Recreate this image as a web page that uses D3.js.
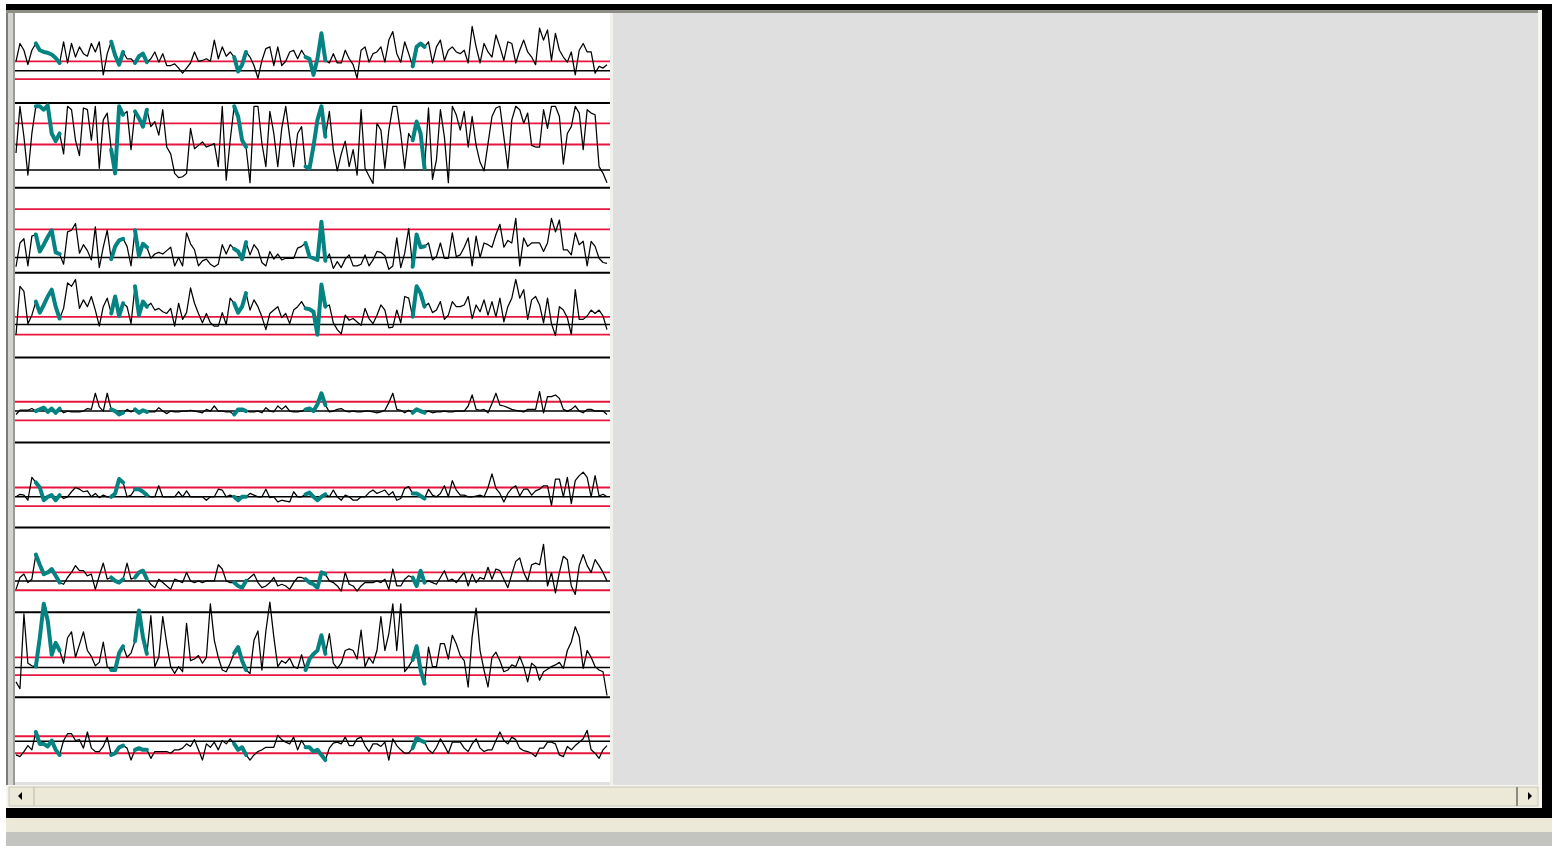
<!DOCTYPE html>
<html>
<head>
<meta charset="utf-8">
<script src="https://cdn.jsdelivr.net/npm/d3@7/dist/d3.min.js"></script>
<style>
  body { margin: 0; background: #fff; }
  svg { display: block; }
</style>
</head>
<body>
<div class="chart"></div>
<script>
var fullWidth = 1558;
var fullHeight = 849;

// one array per strip, values on a 0-100 scale of the strip
var strip1 = [
  49,70,62,45,62,70,62,60,59,57, 53,47,72,47,70,54,66,58,55,70,
  60,72,33,58,72,56,45,60,52,52, 47,55,58,48,52,60,48,58,44,44,
  46,41,35,41,47,60,49,50,52,49, 74,52,66,55,60,54,37,45,60,54,
  44,29,50,64,66,44,66,44,49,60, 62,52,62,54,52,33,52,82,50,47,
  58,47,47,62,52,45,29,62,66,48, 58,60,66,48,74,84,58,48,72,58,
  43,66,70,66,72,47,66,74,50,62, 66,60,58,62,47,90,66,47,70,60,
  54,80,66,50,72,70,47,62,74,60, 54,45,88,74,86,50,82,62,54,48,
  60,33,62,70,60,60,35,43,41,45
];
var strip2 = [
  41,96,60,15,64,96,96,92,97,64, 55,64,40,96,92,56,38,94,92,56,
  96,23,80,88,45,17,96,86,90,45, 90,82,72,92,72,78,62,92,48,40,
  17,12,13,17,70,46,50,54,48,50, 52,25,96,9,56,96,84,56,48,6,
  96,96,52,25,90,64,25,70,96,60, 25,64,72,25,23,49,80,96,60,90,
  45,20,40,55,25,45,15,92,23,14, 5,76,68,23,68,96,96,64,23,64,
  56,78,64,23,94,10,33,92,60,6, 96,86,68,90,48,84,50,30,20,52,
  84,94,96,60,23,80,96,92,76,88, 50,48,48,92,70,96,96,84,28,64,
  72,96,88,45,92,88,86,25,17,6
];
var strip3 = [
  7,35,40,8,43,45,25,33,42,50, 24,22,10,48,50,58,23,33,26,15,
  54,6,30,50,16,31,38,40,31,8, 50,20,34,30,17,22,24,22,26,30,
  8,18,8,47,34,27,8,14,16,10, 7,10,33,22,33,28,25,16,36,21,
  33,27,12,8,25,16,22,15,17,17, 17,29,31,35,19,17,15,60,14,22,
  5,13,6,16,21,8,8,10,21,8, 15,25,24,20,4,8,41,6,23,52,
  7,45,30,31,35,15,19,35,17,17, 47,19,21,30,41,8,43,18,35,33,
  30,45,57,30,38,35,64,8,41,31, 35,35,35,25,35,64,48,62,27,27,
  21,47,33,37,8,37,31,17,12,11
];
var strip4 = [
  27,84,78,40,50,66,53,62,72,80, 60,46,58,88,84,92,58,68,60,72,
  56,37,60,70,52,72,49,64,60,40, 84,50,66,60,64,56,58,54,52,58,
  37,64,45,53,82,64,52,41,52,41, 37,37,53,39,70,64,53,60,76,56,
  68,60,48,33,52,56,60,47,52,40, 56,60,66,58,57,54,27,86,60,62,
  41,33,28,50,44,46,42,38,58,46, 40,50,62,56,35,36,56,41,72,70,
  48,84,76,60,64,53,56,66,45,50, 66,60,60,62,72,46,62,54,68,50,
  66,48,70,42,60,70,92,70,80,45, 68,72,62,41,70,40,26,60,56,47,
  27,80,45,45,49,56,52,56,49,33
];
var strip5 = [
  33,38,38,38,40,37,39,41,36,40, 35,40,35,37,36,36,36,37,40,39,
  58,42,37,58,39,37,33,35,39,36, 39,35,38,36,36,36,41,37,34,37,
  36,36,37,37,38,37,36,35,39,37, 43,37,37,36,36,33,39,39,37,36,
  36,37,35,41,37,36,43,39,43,37, 36,36,37,39,40,37,45,58,44,36,
  37,39,40,37,36,37,36,36,37,37, 36,35,36,38,47,58,39,38,35,38,
  35,39,37,35,37,35,36,36,37,36, 36,37,37,37,43,56,39,38,39,35,
  46,58,44,43,41,39,38,37,36,39, 39,39,60,35,54,54,56,52,39,37,
  39,43,37,35,39,39,37,37,37,33
];
var strip6 = [
  36,39,38,32,59,53,47,32,36,38, 32,38,34,36,42,47,45,42,43,36,
  40,35,38,36,36,40,57,53,36,38, 45,45,42,38,36,36,49,36,36,36,
  36,42,36,43,36,36,36,36,32,36, 36,45,44,36,38,36,32,36,36,40,
  38,36,36,45,35,36,30,32,31,30, 42,36,36,39,41,36,32,36,39,36,
  44,36,32,38,36,32,32,36,36,41, 44,40,42,44,38,42,32,34,46,48,
  40,40,37,34,45,38,36,40,49,36, 55,44,38,38,36,36,37,38,36,47,
  63,46,40,30,40,46,49,37,45,45, 38,43,45,49,49,26,57,57,36,59,
  28,55,61,65,59,36,61,37,39,36
];
var strip7 = [
  27,41,45,35,39,68,56,45,47,51, 43,35,33,41,47,55,49,49,43,45,
  27,43,58,39,41,37,35,39,58,39, 41,47,49,39,33,29,39,35,31,27,
  39,37,35,47,37,35,37,35,37,37, 37,56,51,37,35,35,31,29,37,41,
  45,35,29,31,35,41,31,33,31,27, 35,41,41,39,35,33,29,47,45,37,
  35,31,25,47,33,31,25,31,35,35, 35,37,35,39,27,51,31,31,39,43,
  41,31,49,35,37,35,33,41,49,37, 39,35,41,47,31,45,35,41,39,53,
  39,51,49,39,29,45,60,64,47,37, 56,58,56,80,31,47,23,47,66,62,
  31,21,55,68,55,47,62,55,47,37
];
var strip8 = [
  18,10,98,40,37,36,70,110,90,50, 64,55,40,70,77,47,62,77,55,48,
  37,41,65,36,32,32,52,60,47,52, 66,102,71,51,96,36,47,95,63,36,
  28,36,30,87,43,45,49,40,47,110, 67,47,32,30,40,52,59,43,32,28,
  67,78,32,78,112,71,36,43,40,46, 36,34,50,32,45,51,55,73,51,75,
  40,34,40,55,57,55,45,79,36,47, 40,55,95,55,75,110,55,110,30,36,
  44,60,32,16,59,36,36,63,63,45, 73,63,49,43,12,71,105,55,32,12,
  47,53,43,30,32,38,36,48,36,18, 40,36,20,30,33,36,38,41,34,55,
  65,83,71,34,55,47,36,32,30,2
];
var strip9 = [
  32,30,36,43,38,59,45,45,42,49, 38,32,49,57,57,49,50,40,59,40,
  36,36,42,53,32,34,41,43,40,26, 38,40,38,38,28,36,36,36,36,34,
  38,38,40,45,42,50,38,26,45,41, 47,38,49,45,51,45,38,41,32,26,
  32,36,38,41,41,41,55,50,47,45, 53,38,49,41,41,36,38,32,26,40,
  46,47,45,53,43,43,51,53,43,36, 45,45,42,47,26,51,43,38,34,34,
  40,52,49,47,38,34,41,51,43,34, 47,47,47,40,36,45,51,40,36,38,
  38,49,59,49,45,53,50,40,37,36, 34,30,40,40,47,47,45,32,30,42,
  38,43,47,51,61,38,34,28,38,43
];

var strips = [strip1, strip2, strip3, strip4, strip5, strip6, strip7, strip8, strip9];

// horizontal reference lines per strip
var redHigh = [49, 76, 75, 48, 48, 47, 47, 47, 54];
var redLow = [28, 51, 51, 27, 26, 25, 26, 26, 34];
var centerLine = [38, 21, 18, 39, 37, 36, 37, 35, 48];

// index ranges drawn in teal
var highlights = [[5, 11], [24, 27], [30, 33], [55, 58], [73, 78], [100, 103]];

var plot = { left: 16, right: 607, top: 18, stripHeight: 84.9 };

var svg = d3
  .select(".chart")
  .append("svg")
  .attr("width", fullWidth)
  .attr("height", fullHeight);

// window chrome
svg.append("rect").attr("x", 6).attr("y", 4).attr("width", 1546).attr("height", 814).attr("fill", "#000");
svg.append("rect").attr("x", 6).attr("y", 10).attr("width", 1536).attr("height", 3).attr("fill", "#8f8e84");
svg.append("rect").attr("x", 6).attr("y", 13).attr("width", 1532).attr("height", 772).attr("fill", "#dfdfdf");
svg.append("rect").attr("x", 1538).attr("y", 10).attr("width", 4).attr("height", 798).attr("fill", "#f4f3ee");
svg.append("rect").attr("x", 6).attr("y", 13).attr("width", 2).attr("height", 772).attr("fill", "#7c7c7c");
svg.append("rect").attr("x", 8).attr("y", 13).attr("width", 5).attr("height", 772).attr("fill", "#d2d2d0");
svg.append("rect").attr("x", 13).attr("y", 13).attr("width", 2).attr("height", 772).attr("fill", "#9a9a98");
svg.append("rect").attr("x", 15).attr("y", 13).attr("width", 596).attr("height", 769).attr("fill", "#fff");
svg.append("rect").attr("x", 610).attr("y", 13).attr("width", 3).attr("height", 772).attr("fill", "#f1f0ea");

// scrollbar
var sb = svg.append("g");
sb.append("rect").attr("x", 6).attr("y", 785).attr("width", 1536).attr("height", 23).attr("fill", "#f6f5ef");
sb.append("rect").attr("x", 9).attr("y", 787).attr("width", 1529).attr("height", 19).attr("fill", "#ece9d8")
  .attr("stroke", "#c9c6b6").attr("stroke-width", 1);
sb.append("line").attr("x1", 34).attr("x2", 34).attr("y1", 787).attr("y2", 806).attr("stroke", "#bdbaa8");
sb.append("line").attr("x1", 1517).attr("x2", 1517).attr("y1", 787).attr("y2", 806).attr("stroke", "#8d8b80").attr("stroke-width", 2);
sb.append("path").attr("d", "M18,796 L22,792 L22,800 Z").attr("fill", "#000");
sb.append("path").attr("d", "M1532,796 L1528,792 L1528,800 Z").attr("fill", "#000");

svg.append("rect").attr("x", 6).attr("y", 818).attr("width", 1546).attr("height", 14).attr("fill", "#ece9d8");
svg.append("rect").attr("x", 6).attr("y", 832).attr("width", 1546).attr("height", 14).attr("fill", "#c3c3c0");

// scales
var n = strip1.length;
var xScale = d3.scaleLinear().domain([0, n - 1]).range([plot.left, plot.right]);

var yScales = strips.map(function (s, i) {
  var bottom = plot.top + plot.stripHeight * (i + 1);
  return d3.scaleLinear().domain([0, 100]).range([bottom, bottom - plot.stripHeight]);
});

var chart = svg.append("g");

// strip separators
chart
  .selectAll("line.sep")
  .data(yScales.slice(1))
  .enter()
  .append("line")
  .attr("class", "sep")
  .attr("x1", plot.left - 1)
  .attr("x2", 610)
  .attr("y1", d => d(100))
  .attr("y2", d => d(100))
  .attr("stroke", "#000")
  .attr("stroke-width", 2);

var levels = [];
strips.forEach(function (s, i) {
  levels.push({ i: i, v: redHigh[i], c: "#e8163f" });
  levels.push({ i: i, v: redLow[i], c: "#e8163f" });
  levels.push({ i: i, v: centerLine[i], c: "#000" });
});

chart
  .selectAll("line.level")
  .data(levels)
  .enter()
  .append("line")
  .attr("class", "level")
  .attr("x1", plot.left - 1)
  .attr("x2", 610)
  .attr("y1", d => yScales[d.i](d.v))
  .attr("y2", d => yScales[d.i](d.v))
  .attr("stroke", d => d.c)
  .attr("stroke-width", d => (d.c === "#000" ? 1.5 : 1.8));

strips.forEach(function (s, i) {
  var line = d3
    .line()
    .x((d, j) => xScale(j))
    .y(d => yScales[i](d));

  chart
    .append("path")
    .datum(s)
    .attr("d", line)
    .attr("fill", "none")
    .attr("stroke", "#000")
    .attr("stroke-width", 1.25)
    .attr("stroke-linejoin", "round");

  var seg = d3
    .line()
    .x(d => xScale(d.j))
    .y(d => yScales[i](d.v));

  chart
    .selectAll(null)
    .data(highlights)
    .enter()
    .append("path")
    .attr("d", h => seg(d3.range(h[0], h[1] + 1).map(j => ({ j: j, v: s[j] }))))
    .attr("fill", "none")
    .attr("stroke", "#058383")
    .attr("stroke-width", 4)
    .attr("stroke-linejoin", "round")
    .attr("stroke-linecap", "round");
});
</script>
</body>
</html>
